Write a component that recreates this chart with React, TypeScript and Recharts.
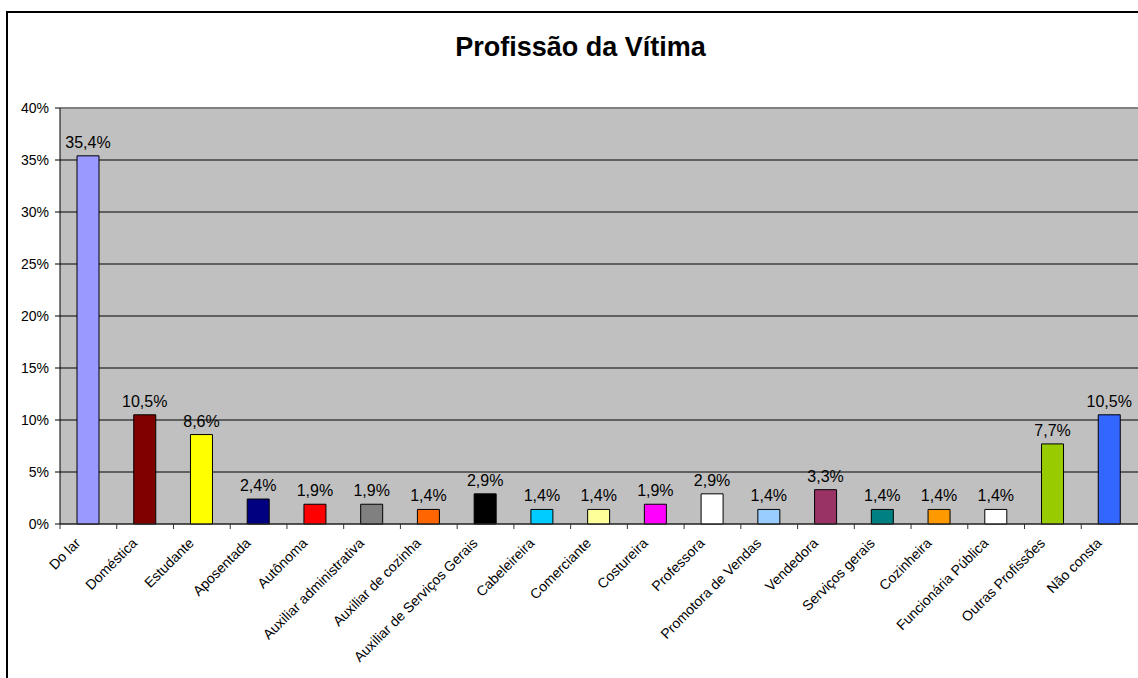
import React from "react"
import { BarChart, Bar, XAxis, YAxis, CartesianGrid, ReferenceLine, LabelList, Cell } from "recharts"

const categories = [
  "Do lar",
  "Doméstica",
  "Estudante",
  "Aposentada",
  "Autônoma",
  "Auxiliar administrativa",
  "Auxiliar de cozinha",
  "Auxiliar de Serviços Gerais",
  "Cabeleireira",
  "Comerciante",
  "Costureira",
  "Professora",
  "Promotora de Vendas",
  "Vendedora",
  "Serviços gerais",
  "Cozinheira",
  "Funcionária Pública",
  "Outras Profissões",
  "Não consta",
]

const values = [35.4, 10.5, 8.6, 2.4, 1.9, 1.9, 1.4, 2.9, 1.4, 1.4, 1.9, 2.9, 1.4, 3.3, 1.4, 1.4, 1.4, 7.7, 10.5]

const colors = [
  "#9999FF", "#800000", "#FFFF00", "#000080", "#FF0000", "#808080", "#FF6600", "#000000", "#00CCFF",
  "#FFFF99", "#FF00FF", "#FFFFFF", "#99CCFF", "#993366", "#008080", "#FF9900", "#FFFFFF", "#99CC00", "#3366FF",
]

const yTicks = [0, 5, 10, 15, 20, 25, 30, 35, 40]

const data = categories.map((name, i) => ({ name, value: values[i] }))

const W = 1138
const H = 678
const PLOT_LEFT = 60
const PLOT_TOP = 108
const PLOT_BOTTOM = 524
const BAND = (W - PLOT_LEFT) / categories.length
const FONT = "'Liberation Sans', Arial, sans-serif"

const XTick = (props: any) => {
  const { x, y, payload } = props
  const tx = x - 7
  const ty = y + 20
  return (
    <g>
      <line x1={x - BAND / 2} x2={x - BAND / 2} y1={y} y2={y + 5} stroke="#333" />
      <text
        x={tx}
        y={ty}
        textAnchor="end"
        fontSize={14}
        fontFamily={FONT}
        fill="#000"
        transform={`rotate(-45 ${tx} ${ty})`}
      >
        {payload.value}
      </text>
    </g>
  )
}

export default function App() {
  return (
    <div style={{ position: "absolute", left: 0, top: 0, width: W, height: H, background: "#fff", overflow: "hidden" }}>
      <div
        style={{
          position: "absolute",
          left: 6,
          top: 11,
          width: W + 20,
          height: H + 20,
          borderTop: "2px solid #000",
          borderLeft: "2px solid #000",
        }}
      />
      <div
        style={{
          position: "absolute",
          left: 0,
          width: 1161,
          top: 32,
          textAlign: "center",
          fontFamily: FONT,
          fontWeight: "bold",
          fontSize: 27,
          lineHeight: "31px",
          color: "#000",
        }}
      >
        Profissão da Vítima
      </div>
      <div style={{ position: "absolute", left: 0, top: 0 }}>
        <BarChart
          width={W}
          height={H}
          data={data}
          margin={{ top: PLOT_TOP, right: 0, left: 0, bottom: 0 }}
          barCategoryGap={0}
        >
          <CartesianGrid fill="#C0C0C0" stroke="#000" vertical={false} fillOpacity={1} />
          <ReferenceLine y={40} stroke="#808080" strokeWidth={2} />
          <XAxis
            dataKey="name"
            height={H - PLOT_BOTTOM}
            interval={0}
            tick={<XTick />}
            tickLine={false}
            tickSize={0}
            tickMargin={0}
            axisLine={{ stroke: "#333" }}
          />
          <YAxis
            width={PLOT_LEFT}
            domain={[0, 40]}
            ticks={yTicks}
            tickFormatter={(v: number) => `${v}%`}
            tickSize={5}
            tickMargin={6}
            tick={{ fontSize: 14, fontFamily: FONT, fill: "#000" }}
            tickLine={{ stroke: "#000" }}
            axisLine={{ stroke: "#000" }}
            interval={0}
          />
          <Bar dataKey="value" barSize={22} stroke="#000" strokeWidth={1} isAnimationActive={false}>
            {data.map((d, i) => (
              <Cell key={d.name} fill={colors[i]} />
            ))}
            <LabelList
              dataKey="value"
              position="top"
              offset={8}
              formatter={(v: any) => `${Number(v).toFixed(1).replace(".", ",")}%`}
              style={{ fontSize: 16, fontFamily: FONT, fill: "#000" }}
            />
          </Bar>
        </BarChart>
      </div>
    </div>
  )
}
